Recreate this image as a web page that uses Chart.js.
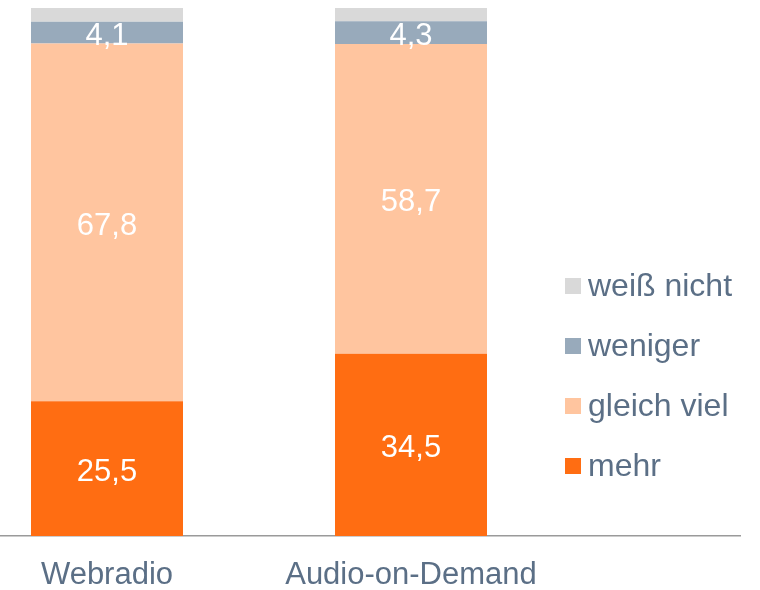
<!DOCTYPE html>
<html lang="de">
<head>
<meta charset="utf-8">
<title>Webradio / Audio-on-Demand</title>
<script src="https://cdn.jsdelivr.net/npm/chart.js@4/dist/chart.umd.min.js"></script>
<style>
  html, body { margin: 0; padding: 0; background: #ffffff; }
  #wrap { position: relative; width: 760px; height: 590px; }
</style>
</head>
<body>
<div id="wrap"><canvas id="usage-chart"></canvas></div>
<script>
// categories and shares in percent (stacked bottom to top)
const categories = ['Webradio', 'Audio-on-Demand']
const mehr = [25.5, 34.5]
const gleichViel = [67.8, 58.7]
const weniger = [4.1, 4.3]
const weissNicht = [2.6, 2.5]

const seriesNames = ['mehr', 'gleich viel', 'weniger', 'weiß nicht']
const seriesColors = ['#ff6d12', '#ffc59f', '#98aabb', '#d9d9d9']
const labelledSeries = [true, true, true, false]

const FONT = "'Liberation Sans', Arial, sans-serif"
const TEXT_COLOR = '#5b6f86'

Chart.defaults.font.family = FONT

const toPoints = (values) => values.map((v, i) => ({ x: i, y: v }))

const datasets = [mehr, gleichViel, weniger, weissNicht].map((values, i) => ({
  label: seriesNames[i],
  data: toPoints(values),
  backgroundColor: seriesColors[i],
  borderWidth: 0,
  categoryPercentage: 1,
  barPercentage: 0.5,
  showValue: labelledSeries[i]
}))

// white value labels in the middle of each segment
const valueLabels = {
  id: 'valueLabels',
  afterDatasetsDraw (chart) {
    const ctx = chart.ctx
    ctx.save()
    ctx.font = '31px ' + FONT
    ctx.fillStyle = '#ffffff'
    ctx.textAlign = 'center'
    ctx.textBaseline = 'middle'
    chart.data.datasets.forEach((ds, di) => {
      if (!ds.showValue) return
      chart.getDatasetMeta(di).data.forEach((bar, i) => {
        const text = ds.data[i].y.toFixed(1).replace('.', ',')
        ctx.fillText(text, bar.x, (bar.y + bar.base) / 2 + 4)
      })
    })
    ctx.restore()
  }
}

// legend on the right, top entry = last dataset
const sideLegend = {
  id: 'sideLegend',
  afterDraw (chart) {
    const ctx = chart.ctx
    const left = 565
    const top = 286
    const step = 60
    const box = 16
    ctx.save()
    ctx.font = '32px ' + FONT
    ctx.textBaseline = 'middle'
    ctx.textAlign = 'left'
    const items = chart.data.datasets.slice().reverse()
    items.forEach((ds, i) => {
      const cy = top + i * step
      ctx.fillStyle = ds.backgroundColor
      ctx.fillRect(left, cy - box / 2, box, box)
      ctx.fillStyle = TEXT_COLOR
      ctx.fillText(ds.label, left + 23, cy + 1)
    })
    ctx.restore()
  }
}

const barSpan = 304 // pixels between the two bar centres
const firstCentre = 107
const axisEnd = 740

new Chart(document.getElementById('usage-chart').getContext('2d'), {
  type: 'bar',
  data: { datasets },
  options: {
    responsive: true,
    maintainAspectRatio: false,
    animation: false,
    layout: { padding: { top: 8, left: 0, right: 760 - axisEnd, bottom: 0 } },
    plugins: {
      legend: { display: false },
      tooltip: { enabled: false }
    },
    scales: {
      x: {
        type: 'linear',
        stacked: true,
        offset: false,
        min: -firstCentre / barSpan,
        max: (axisEnd - firstCentre) / barSpan,
        afterBuildTicks (scale) {
          scale.ticks = categories.map((_, i) => ({ value: i }))
        },
        afterFit (scale) {
          scale.height = 54
        },
        grid: { display: false, drawTicks: false },
        border: { display: true, color: '#9a9a9a', width: 1.5 },
        ticks: {
          autoSkip: false,
          maxRotation: 0,
          padding: 22,
          color: TEXT_COLOR,
          font: { size: 31, lineHeight: 1.1 },
          callback: (value) => categories[value]
        }
      },
      y: {
        stacked: true,
        display: false,
        min: 0,
        max: 100
      }
    }
  },
  plugins: [valueLabels, sideLegend]
})
</script>
</body>
</html>
